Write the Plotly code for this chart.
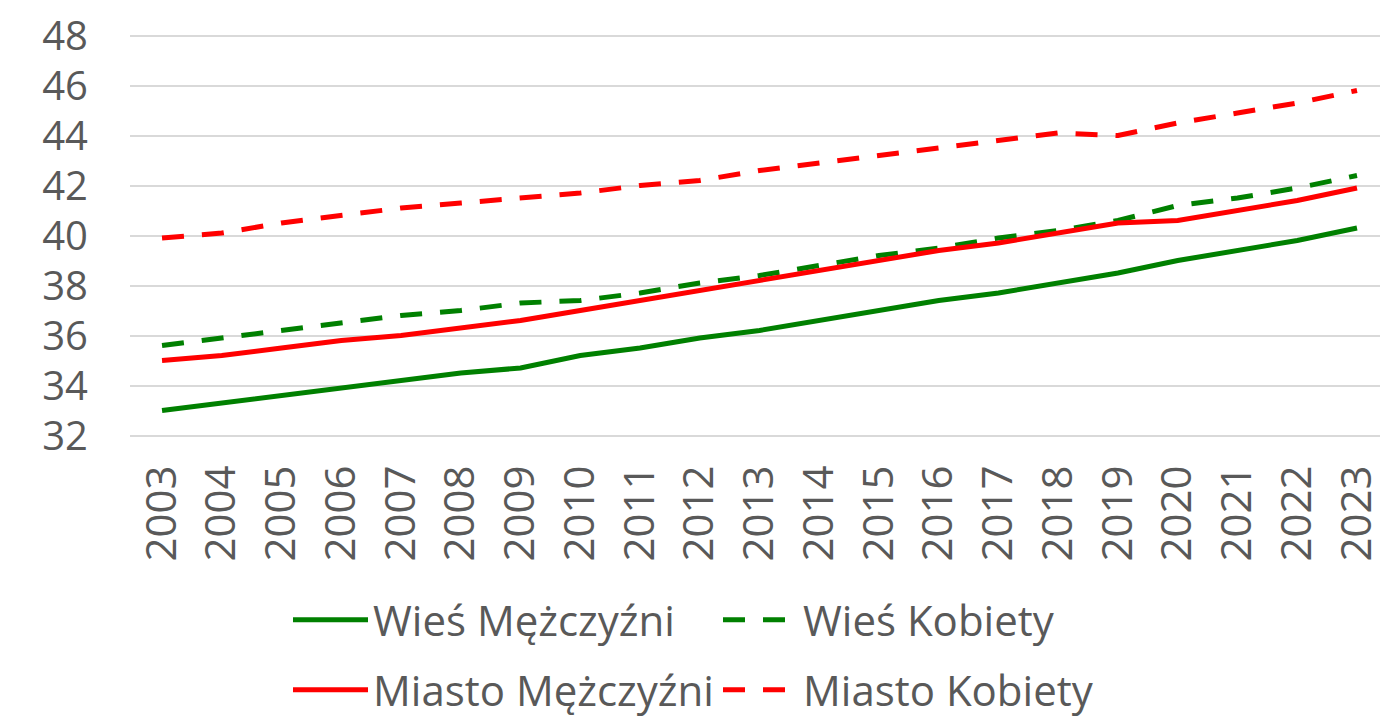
import plotly.graph_objects as go

years = [str(y) for y in range(2003, 2024)]
wies_m = [33.0, 33.3, 33.6, 33.9, 34.2, 34.5, 34.7, 35.2, 35.5, 35.9, 36.2,
          36.6, 37.0, 37.4, 37.7, 38.1, 38.5, 39.0, 39.4, 39.8, 40.3]
wies_k = [35.6, 35.9, 36.2, 36.5, 36.8, 37.0, 37.3, 37.4, 37.7, 38.1, 38.4,
          38.8, 39.2, 39.5, 39.9, 40.2, 40.6, 41.2, 41.5, 41.9, 42.4]
miasto_m = [35.0, 35.2, 35.5, 35.8, 36.0, 36.3, 36.6, 37.0, 37.4, 37.8, 38.2,
            38.6, 39.0, 39.4, 39.7, 40.1, 40.5, 40.6, 41.0, 41.4, 41.9]
miasto_k = [39.9, 40.1, 40.5, 40.8, 41.1, 41.3, 41.5, 41.7, 42.0, 42.2, 42.6,
            42.9, 43.2, 43.5, 43.8, 44.1, 44.0, 44.5, 44.9, 45.3, 45.8]
y_ticks = [32, 34, 36, 38, 40, 42, 44, 46, 48]

GREEN = "#008000"
RED = "#FF0000"
TXT = "#595959"
FONT = "Open Sans"
DASH = "22px,18px"
LW = 5

fig = go.Figure()
fig.add_trace(go.Scatter(x=years, y=wies_m, name="Wieś Mężczyźni", mode="lines",
                         line=dict(color=GREEN, width=LW), legend="legend"))
fig.add_trace(go.Scatter(x=years, y=wies_k, name="Wieś Kobiety", mode="lines",
                         line=dict(color=GREEN, width=LW, dash=DASH), legend="legend"))
fig.add_trace(go.Scatter(x=years, y=miasto_m, name="Miasto Mężczyźni", mode="lines",
                         line=dict(color=RED, width=LW), legend="legend2"))
fig.add_trace(go.Scatter(x=years, y=miasto_k, name="Miasto Kobiety", mode="lines",
                         line=dict(color=RED, width=LW, dash=DASH), legend="legend2"))

legend_common = dict(orientation="h", xanchor="left", yanchor="middle",
                     font=dict(family=FONT, size=42, color=TXT),
                     entrywidth=340, entrywidthmode="pixels",
                     bgcolor="rgba(0,0,0,0)", itemwidth=75, traceorder="normal")

fig.update_layout(
    width=1380, height=717,
    margin=dict(l=130, r=0, t=33.2, b=278.8, autoexpand=False),
    plot_bgcolor="white", paper_bgcolor="white",
    font=dict(family=FONT, color=TXT),
    legend=dict(x=0.1264, y=-0.449, **legend_common),
    legend2=dict(x=0.1264, y=-0.622, **legend_common),
    xaxis=dict(type="category", range=[-0.536, 20.385], showgrid=False,
               showline=False, zeroline=False, ticks="", tickangle=-90,
               automargin=False, ticklabelstandoff=18,
               tickfont=dict(family=FONT, size=42, color=TXT)),
    yaxis=dict(range=[31.9, 48.1], tickvals=y_ticks, showgrid=True,
               gridcolor="#D9D9D9", gridwidth=1.5, zeroline=False, showline=False,
               ticks="", ticklabelstandoff=41, automargin=False,
               tickfont=dict(family=FONT, size=40, color=TXT)),
)

fig.write_html("out.html", config={"displayModeBar": False},
               post_script="document.body.style.margin='0';document.body.style.overflow='hidden';")
